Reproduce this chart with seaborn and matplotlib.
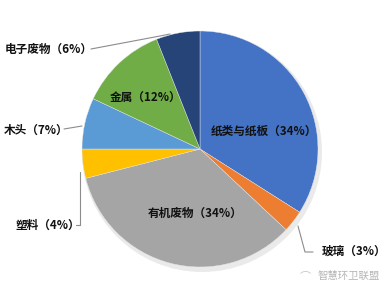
import matplotlib
matplotlib.use("Agg")
import matplotlib.pyplot as plt
import seaborn as sns

# Composition of municipal solid waste (share by category)
categories = ["纸类与纸板", "玻璃", "有机废物", "塑料", "木头", "金属", "电子废物"]
shares = [34, 3, 34, 4, 7, 12, 6]
colors = ["#4472C4", "#ED7D31", "#A5A5A5", "#FFC000", "#5B9BD5", "#70AD47", "#264478"]

sns.set_theme(style="white")
plt.rcParams["font.family"] = ["Noto Sans CJK SC", "DejaVu Sans"]

W, H = 388, 296
fig = plt.figure(figsize=(W / 100, H / 100), dpi=100)
ax = fig.add_axes([0, 0, 1, 1])

cx, cy, r = 200, H - 149, 118


def py(y):
    # convert a top-down pixel row into the axes' y coordinate
    return H - y


# soft shadow under the pie
ax.pie([1], colors=["#dcdcdc"], radius=r + 2, center=(cx + 2, cy - 3),
       wedgeprops=dict(linewidth=0, alpha=0.6), frame=True)
ax.pie(shares, colors=colors, radius=r, center=(cx, cy), startangle=90,
       counterclock=False, wedgeprops=dict(linewidth=0.3, edgecolor="#e8e8e8"),
       frame=True)
ax.set_xlim(0, W)
ax.set_ylim(0, H)
ax.set_aspect("equal")
ax.axis("off")


def lab(i):
    return f"{categories[i]}（{shares[i]}%）"


fs = 8.4
tc = "#111111"
wt = "bold"
# labels inside the large slices
ax.text(264, py(131), lab(0), ha="center", va="center", fontsize=fs, color=tc, weight=wt)
ax.text(195, py(213), lab(2), ha="center", va="center", fontsize=fs, color=tc, weight=wt)
ax.text(146, py(97), lab(5), ha="center", va="center", fontsize=fs, color=tc, weight=wt)

# labels outside with leader lines
lc = "#8c8c8c"
ax.text(5, py(49), lab(6), ha="left", va="center", fontsize=fs, color=tc, weight=wt)
ax.plot([91, 160, 170], [py(49), py(36), py(34)], color=lc, lw=0.8)

ax.text(4, py(130), lab(4), ha="left", va="center", fontsize=fs, color=tc, weight=wt)
ax.plot([64, 82], [py(129), py(126)], color=lc, lw=0.8)

ax.text(15, py(225), lab(3), ha="left", va="center", fontsize=fs, color=tc, weight=wt)
ax.plot([76, 80, 80], [py(225), py(225), py(172)], color=lc, lw=0.8)

ax.text(322, py(251), lab(1), ha="left", va="center", fontsize=fs, color=tc, weight=wt)
ax.plot([298, 305, 313], [py(226), py(252), py(252)], color=lc, lw=0.8)

# watermark
ax.text(318, py(276), "智慧环卫联盟", ha="left", va="center", fontsize=7.5, color="#b5b5b5")
ax.text(305, py(276), "⌒", ha="center", va="center", fontsize=8, color="#c8c8c8")

fig.savefig("out.png", dpi=100)
